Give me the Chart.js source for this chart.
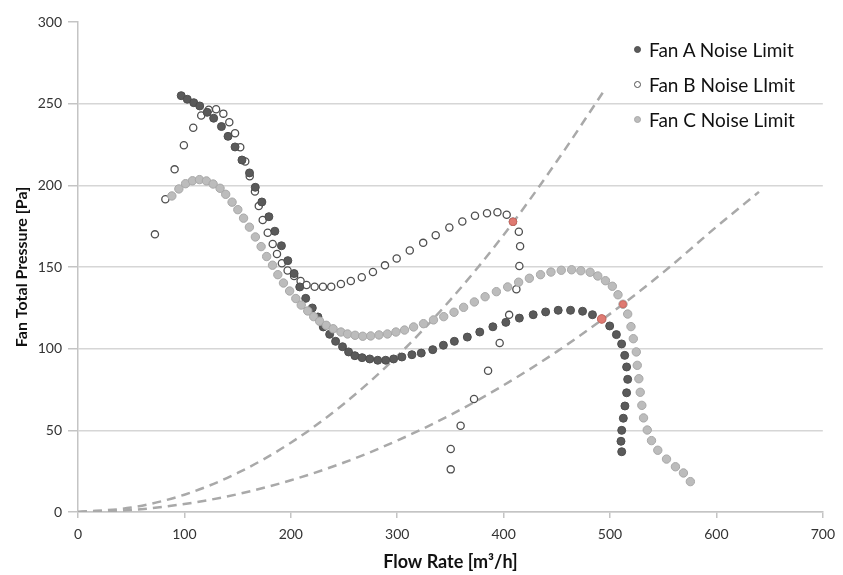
<!DOCTYPE html>
<html>
<head>
<meta charset="utf-8">
<title>Fan Noise Limits</title>
<script src="https://cdn.jsdelivr.net/npm/chart.js@4.4.1/dist/chart.umd.min.js"></script>
<style>
  body { margin: 0; background: #fff; }
  #wrap { position: relative; width: 843px; height: 575px; }
  #legend { position: absolute; left: 634px; top: 32px; font-family: Lato, sans-serif; font-size: 19px; color: #111; }
  #legend .row { height: 35px; line-height: 35px; white-space: nowrap; }
  #legend .dot { display: inline-block; width: 7px; height: 7px; border-radius: 50%; box-sizing: border-box; margin-right: 8px; position: relative; top: -4px; }
</style>
</head>
<body>
<div id="wrap">
  <canvas id="chart" width="843" height="575"></canvas>
  <div id="legend"></div>
</div>
<script>
// Fan A noise limit curve
const fanAFlow = [97.0, 102.7, 108.8, 114.4, 121.4, 127.5, 134.8, 141.0, 147.6, 154.1,
  161.2, 166.6, 172.8, 179.4, 185.0, 191.2, 197.2, 203.1, 208.4, 214.0,
  220.2, 225.5, 230.5, 236.5, 242.1, 248.6, 254.3, 260.2, 267.0, 274.2,
  281.7, 289.2, 296.6, 304.4, 313.8, 322.6, 333.4, 343.4, 353.7, 365.9,
  377.6, 389.9, 402.1, 414.8, 427.8, 439.5, 451.3, 462.9, 474.2, 483.5,
  492.2, 499.7, 506.0, 510.9, 513.8, 515.6, 516.6, 515.6, 514.0, 512.5,
  511.0, 510.3, 511.0];
const fanAPressure = [254.9, 252.7, 250.6, 248.6, 244.7, 241.1, 236.0, 230.0, 223.5, 215.5,
  207.6, 198.8, 189.8, 180.8, 171.9, 163.0, 153.9, 146.0, 137.8, 130.8,
  124.9, 119.4, 113.3, 108.8, 104.5, 101.2, 98.0, 95.7, 94.5, 93.7,
  92.9, 92.9, 93.7, 94.9, 96.3, 97.3, 99.4, 102.1, 104.5, 107.1,
  110.2, 113.4, 116.1, 118.7, 120.8, 122.5, 123.5, 123.5, 122.9, 120.8,
  118.2, 113.9, 108.6, 102.9, 95.9, 88.8, 81.2, 73.0, 64.9, 57.4,
  50.0, 43.3, 36.9];

// Fan B noise limit curve
const fanBFlow = [72.3, 82.1, 90.8, 99.5, 108.3, 115.8, 122.9, 129.8, 136.6, 142.2,
  147.6, 152.5, 157.2, 161.4, 166.3, 169.9, 173.6, 178.3, 183.0, 187.0,
  191.6, 197.0, 203.1, 209.2, 214.8, 222.4, 230.2, 238.0, 247.1, 256.4, 266.7,
  277.2, 288.5, 299.5, 311.8, 324.4, 336.2, 349.0, 361.2, 373.1, 384.4,
  394.2, 402.9, 408.8, 414.3, 415.5, 414.8, 412.0, 405.2, 396.3, 385.4,
  372.2, 359.6, 350.3, 350.3];
const fanBPressure = [170.0, 191.5, 209.8, 224.5, 235.3, 242.8, 246.3, 246.6, 243.9, 238.6,
  231.9, 223.3, 214.6, 205.6, 196.2, 187.3, 178.8, 171.0, 164.1, 158.0,
  152.3, 147.9, 144.5, 141.5, 139.0, 137.9, 137.9, 137.9, 139.6, 141.4, 143.7,
  146.9, 151.0, 155.2, 160.1, 164.8, 169.5, 174.2, 177.9, 181.4, 182.9,
  183.5, 182.0, 177.7, 171.6, 162.7, 150.6, 136.4, 120.7, 103.5, 86.5,
  69.2, 52.8, 38.6, 26.1];

// Fan C noise limit curve
const fanCFlow = [88.2, 94.8, 101.1, 107.6, 114.2, 120.7, 127.0, 133.5, 138.8, 144.8,
  150.2, 155.6, 161.1, 166.7, 172.1, 177.3, 182.8, 187.8, 193.1, 198.9,
  204.7, 209.8, 215.9, 221.5, 227.1, 233.3, 239.8, 247.1, 253.3, 260.4,
  267.6, 275.1, 282.9, 290.8, 298.8, 306.9, 315.4, 324.7, 334.1, 343.7,
  353.4, 362.4, 372.5, 382.6, 393.2, 403.8, 414.1, 424.2, 434.7, 444.5,
  454.2, 463.9, 472.6, 481.3, 488.5, 495.7, 502.2, 507.5, 512.2, 516.6,
  519.7, 521.9, 524.7, 525.6, 527.1, 528.4, 529.9, 531.5, 535.0, 539.0,
  544.9, 553.1, 561.5, 569.0, 575.5];
const fanCPressure = [193.5, 197.8, 201.0, 202.8, 203.5, 202.7, 200.8, 198.2, 194.5, 189.7,
  185.1, 179.9, 174.4, 168.4, 162.5, 156.4, 151.1, 145.3, 140.2, 135.3,
  130.7, 126.7, 123.1, 119.6, 116.8, 114.3, 112.2, 110.2, 109.0, 108.2,
  107.6, 107.8, 108.4, 109.0, 110.2, 111.4, 113.3, 115.3, 117.6, 119.6,
  122.3, 125.3, 128.6, 131.8, 134.9, 137.8, 140.7, 143.1, 145.3, 146.9,
  148.0, 148.3, 147.7, 146.8, 144.5, 141.6, 138.2, 133.0, 127.2, 121.2,
  113.5, 106.1, 98.0, 89.8, 81.6, 73.3, 65.3, 57.6, 50.2, 43.7,
  37.8, 32.4, 27.7, 23.9, 18.6];

// system curves (dashed)
const systemSteepFlow = [0, 50, 100, 150, 200, 250, 300, 350, 400, 450, 495];
const systemSteepPressure = [0, 2.7, 10.6, 23.9, 42.4, 66.3, 95.4, 129.9, 169.6, 214.7, 258.5];
const systemFlatFlow = [0, 50, 100, 150, 200, 250, 300, 350, 400, 450, 500, 550, 600, 640];
const systemFlatPressure = [0, 1.2, 4.9, 10.9, 19.4, 30.3, 43.7, 59.4, 77.6, 98.2, 121.3, 146.7, 174.6, 196.0];

// operating points (where system curve meets a noise limit)
const opFlow = [492.2, 408.8, 512.2];
const opPressure = [118.2, 177.7, 127.2];

const toPoints = (xs, ys) => xs.map((x, i) => ({ x: x, y: ys[i] }));

const fontFamily = "Lato, 'Open Sans', sans-serif";

const datasets = [
  {
    label: "Fan A Noise Limit",
    data: toPoints(fanAFlow, fanAPressure),
    pointRadius: 4,
    pointBackgroundColor: "#5a5a5a",
    pointBorderColor: "#4e4e4e",
    pointBorderWidth: 1,
    order: 2,
  },
  {
    label: "Fan B Noise LImit",
    data: toPoints(fanBFlow, fanBPressure),
    pointRadius: 3.6,
    pointBackgroundColor: "#ffffff",
    pointBorderColor: "#505050",
    pointBorderWidth: 1.3,
    order: 3,
  },
  {
    label: "Fan C Noise Limit",
    data: toPoints(fanCFlow, fanCPressure),
    pointRadius: 4.2,
    pointBackgroundColor: "#bcbcbc",
    pointBorderColor: "#a8a8a8",
    pointBorderWidth: 1,
    order: 1,
  },
  {
    label: "Operating point",
    data: toPoints(opFlow, opPressure),
    pointRadius: [4.3, 3.8, 3.5],
    pointBackgroundColor: "#df7a72",
    pointBorderColor: "#cc6a62",
    pointBorderWidth: 1,
    order: 0,
    hideInLegend: true,
  },
  {
    label: "System 1",
    data: toPoints(systemSteepFlow, systemSteepPressure),
    showLine: true,
    pointRadius: 0,
    borderColor: "#a9a9a9",
    borderWidth: 2.5,
    borderDash: [9, 6],
    cubicInterpolationMode: "monotone",
    order: 5,
    hideInLegend: true,
  },
  {
    label: "System 2",
    data: toPoints(systemFlatFlow, systemFlatPressure),
    showLine: true,
    pointRadius: 0,
    borderColor: "#a9a9a9",
    borderWidth: 2.5,
    borderDash: [9, 6],
    cubicInterpolationMode: "monotone",
    order: 5,
    hideInLegend: true,
  },
];

const chart = new Chart(document.getElementById("chart"), {
  type: "scatter",
  data: { datasets: datasets },
  options: {
    responsive: false,
    animation: false,
    layout: { padding: { top: 22, right: 17, left: 0, bottom: 0 } },
    plugins: {
      legend: { display: false },
      tooltip: { enabled: false },
    },
    scales: {
      x: {
        type: "linear",
        min: 0,
        max: 700,
        ticks: { stepSize: 100, padding: 8, color: "#333", font: { family: fontFamily, size: 14 } },
        grid: { drawOnChartArea: false, tickLength: 6, tickColor: "#c4c4c4", lineWidth: 1.5 },
        border: { color: "#c4c4c4", width: 1.5 },
        title: {
          display: true,
          text: "Flow Rate [m³/h]",
          color: "#111",
          font: { family: fontFamily, size: 18, weight: "bold" },
          padding: { top: 4, bottom: 2 },
        },
        afterFit: (scale) => { scale.height = 63; },
      },
      y: {
        type: "linear",
        min: 0,
        max: 300,
        ticks: { stepSize: 50, padding: 6, color: "#333", font: { family: fontFamily, size: 14 } },
        grid: {
          color: (c) => (c.tick && c.tick.value === 300 ? "rgba(0,0,0,0)" : "#d6d6d6"),
          lineWidth: 1.5,
          tickLength: 10,
          tickColor: "#c4c4c4",
        },
        border: { color: "#c4c4c4", width: 1.5 },
        title: {
          display: true,
          text: "Fan Total Pressure [Pa]",
          color: "#111",
          font: { family: fontFamily, size: 16, weight: "bold" },
          padding: { top: 12, bottom: 4 },
        },
        afterFit: (scale) => { scale.width = 78; },
      },
    },
  },
});

// legend in the top right corner, built from the datasets
const legend = document.getElementById("legend");
chart.data.datasets.forEach((ds) => {
  if (ds.hideInLegend) return;
  const row = document.createElement("div");
  row.className = "row";
  const dot = document.createElement("span");
  dot.className = "dot";
  dot.style.background = ds.pointBackgroundColor;
  dot.style.border = "1px solid " + ds.pointBorderColor;
  row.appendChild(dot);
  row.appendChild(document.createTextNode(ds.label));
  legend.appendChild(row);
});
</script>
</body>
</html>
